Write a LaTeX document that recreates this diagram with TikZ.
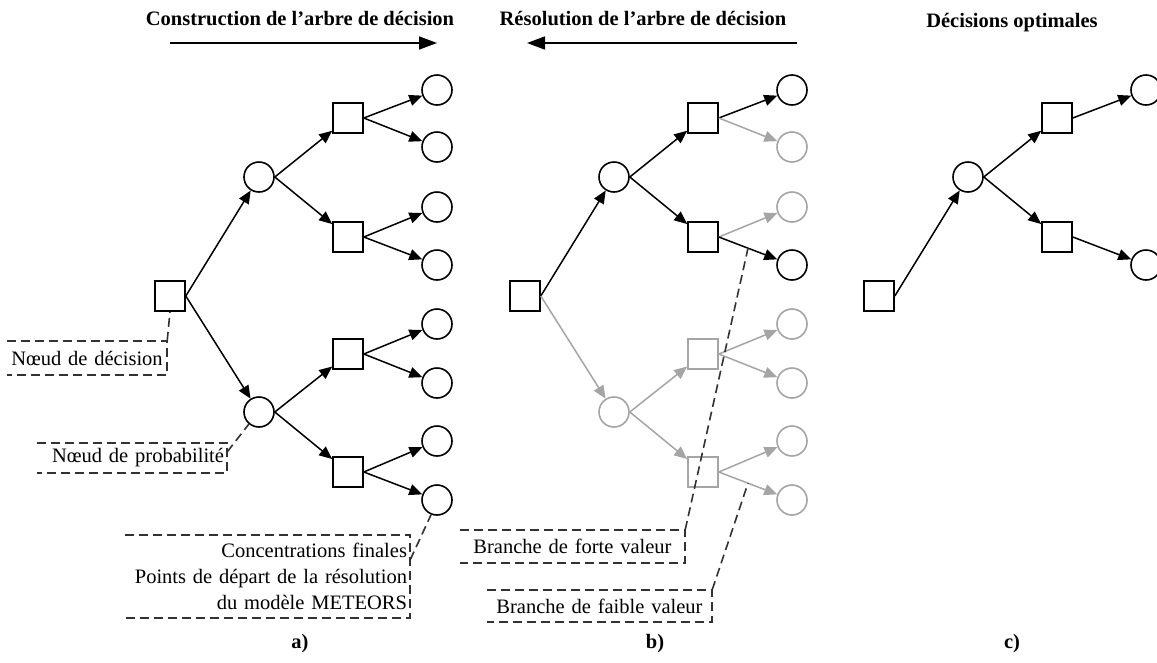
\documentclass[tikz,border=0pt]{standalone}
\usepackage{fontspec}
\setmainfont{Liberation Serif}
\usetikzlibrary{arrows.meta,calc}
\definecolor{faint}{RGB}{165,165,165}
\definecolor{calline}{RGB}{50,50,50}

\begin{document}
\begin{tikzpicture}[x=1pt,y=-1pt,
  font=\fontsize{20.5}{26}\selectfont,
  dnode/.style={draw, line width=1.6pt, minimum size=30pt, inner sep=0pt},
  decn/.style={dnode, rectangle},
  chance/.style={dnode, circle},
  branch/.style={line width=1.5pt, -{Triangle[length=13pt,width=11pt]}},
  toparrow/.style={line width=1.6pt, -{Triangle[length=18pt,width=13pt]}},
  title/.style={font=\fontsize{20.5}{24}\selectfont\bfseries, anchor=base},
  callout/.style={inner xsep=3pt, inner ysep=0pt, align=right},
  callbox/.style={draw=calline, line width=1.6pt, dash pattern=on 9pt off 5pt}
]
\useasboundingbox (0,0) rectangle (1157,662);

% ---------- titles ----------
\node[title] (t1) at (300,25) {Construction de l’arbre de décision};
\coordinate (t1a) at (170,43);
\coordinate (t1b) at (437,43);
\draw[toparrow] (t1a) -- (t1b);

\node[title] (t2) at (643,25) {Résolution de l’arbre de décision};
\coordinate (t2a) at (797,43);
\coordinate (t2b) at (527,43);
\draw[toparrow] (t2a) -- (t2b);

\node[title] (t3) at (1012,27) {Décisions optimales};

% ---------- tree a) : construction ----------
\node[decn] (ar) at (170,296) {};
\node[chance] (ac1) at (259,177) {};
\node[chance] (ac2) at (259,412) {};
\node[decn] (as1) at (348,118) {};
\node[decn] (as2) at (348,237) {};
\node[decn] (as3) at (348,354) {};
\node[decn] (as4) at (348,472) {};
\foreach \i/\y in {1/90,2/147,3/207,4/265,5/324,6/383,7/441,8/500}
  \node[chance] (al\i) at (437,\y) {};

\draw[branch] (ar.east) -- (ac1);
\draw[branch] (ar.east) -- (ac2);
\draw[branch] (ac1.east) -- (as1);
\draw[branch] (ac1.east) -- (as2);
\draw[branch] (ac2.east) -- (as3);
\draw[branch] (ac2.east) -- (as4);
\foreach \s/\a/\b in {1/1/2,2/3/4,3/5/6,4/7/8} {
  \draw[branch] (as\s.east) -- (al\a);
  \draw[branch] (as\s.east) -- (al\b);
}

% ---------- tree b) : resolution ----------
\node[decn] (br) at (525,296) {};
\node[chance] (bc1) at (614,177) {};
\node[chance, draw=faint] (bc2) at (614,412) {};
\node[decn] (bs1) at (703,118) {};
\node[decn] (bs2) at (703,237) {};
\node[decn, draw=faint] (bs3) at (703,354) {};
\node[decn, draw=faint] (bs4) at (703,472) {};
\node[chance] (bl1) at (792,90) {};
\node[chance, draw=faint] (bl2) at (792,147) {};
\node[chance, draw=faint] (bl3) at (792,207) {};
\node[chance] (bl4) at (792,265) {};
\foreach \i/\y in {5/324,6/383,7/441,8/500}
  \node[chance, draw=faint] (bl\i) at (792,\y) {};

\draw[branch] (br.east) -- (bc1);
\draw[branch, faint] (br.east) -- (bc2);
\draw[branch] (bc1.east) -- (bs1);
\draw[branch] (bc1.east) -- (bs2);
\draw[branch, faint] (bc2.east) -- (bs3);
\draw[branch, faint] (bc2.east) -- (bs4);
\draw[branch] (bs1.east) -- (bl1);
\draw[branch, faint] (bs1.east) -- (bl2);
\draw[branch, faint] (bs2.east) -- (bl3);
\draw[branch] (bs2.east) -- coordinate[pos=0.5] (mf) (bl4);
\draw[branch, faint] (bs3.east) -- (bl5);
\draw[branch, faint] (bs3.east) -- (bl6);
\draw[branch, faint] (bs4.east) -- (bl7);
\draw[branch, faint] (bs4.east) -- coordinate[pos=0.5] (mw) (bl8);

% ---------- tree c) : optimal decisions ----------
\node[decn] (cr) at (879,296) {};
\node[chance] (cc) at (968,177) {};
\node[decn] (cs1) at (1057,118) {};
\node[decn] (cs2) at (1057,237) {};
\node[chance] (cl1) at (1146,90) {};
\node[chance] (cl2) at (1146,265) {};
\draw[branch] (cr.east) -- (cc);
\draw[branch] (cc.east) -- (cs1);
\draw[branch] (cc.east) -- (cs2);
\draw[branch] (cs1.east) -- (cl1);
\draw[branch] (cs2.east) -- (cl2);

% ---------- callouts ----------
\node[callout, align=center, text width=154pt, minimum height=34pt] (nd) at (87,358) {Nœud de décision};
\draw[callbox] (nd.north west) -- (nd.north east) -- (nd.south east) -- (nd.south west);
\draw[callbox] (nd.north east) -- (ar.south);

\node[callout, text width=184pt, minimum height=30pt] (np) at (132,458) {Nœud de probabilité};
\draw[callbox] (np.north west) -- (np.north east) -- (np.south east) -- (np.south west);
\draw[callbox] ($(np.north east)!0.3!(np.south east)$) -- (ac2.-130);

\node[callout, text width=279pt, minimum height=83pt] (cf) at (267.5,576.5)
  {Concentrations finales\\Points de départ de la résolution\\du modèle METEORS};
\draw[callbox] (cf.north west) -- (cf.north east) -- (cf.south east) -- (cf.south west);
\draw[callbox] ($(cf.north east)!0.3!(cf.south east)$) -- (al8.-112);

\node[callout, align=center, text width=219pt, minimum height=33pt] (bf) at (572.5,546.5) {Branche de forte valeur};
\draw[callbox] (bf.north west) -- (bf.north east) -- (bf.south east) -- (bf.south west);
\draw[callbox] (bf.north east) -- (mf);

\node[callout, align=center, text width=219pt, minimum height=32pt] (bw) at (599.5,606) {Branche de faible valeur};
\draw[callbox] (bw.north west) -- (bw.north east) -- (bw.south east) -- (bw.south west);
\draw[callbox] (bw.north east) -- (mw);

% ---------- panel labels ----------
\node[title] (la) at (300,648) {a)};
\node[title] (lb) at (655,648) {b)};
\node[title] (lc) at (1012,648) {c)};
\end{tikzpicture}
\end{document}
